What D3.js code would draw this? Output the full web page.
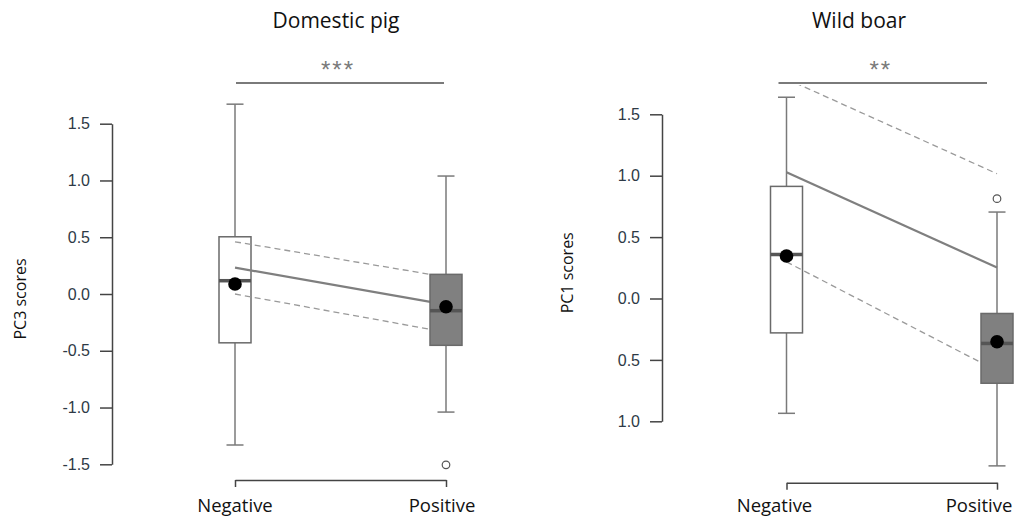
<!DOCTYPE html>
<html>
<head>
<meta charset="utf-8">
<script src="https://cdn.jsdelivr.net/npm/d3@7"></script>
<style>
  body { margin: 0; background: #fff; }
  svg { display: block; }
</style>
</head>
<body>
<div id="chart"></div>
<script>
const groups = ['Negative', 'Positive'];

// box stats: [lower whisker, q1, median, q3, upper whisker]
const pigBoxes = [[-1.33, -0.43, 0.117, 0.504, 1.672], [-1.04, -0.452, -0.147, 0.173, 1.039]];
const pigMeans = [0.088, -0.112];
const pigOutliers = [[], [-1.505]];
const pigFit = [0.232, -0.093];
const pigUpper = [0.46, 0.15];
const pigLower = [0.0, -0.336];
const pigTicks = [1.5, 1.0, 0.5, 0.0, -0.5, -1.0, -1.5];
const pigTickLabels = ['1.5', '1.0', '0.5', '0.0', '-0.5', '-1.0', '-1.5'];

const boarBoxes = [[-0.935, -0.28, 0.358, 0.913, 1.639], [-1.363, -0.69, -0.366, -0.122, 0.704]];
const boarMeans = [0.346, -0.352];
const boarOutliers = [[], [0.813]];
const boarFit = [1.029, 0.252];
const boarUpper = [1.788, 1.016];
const boarLower = [0.298, -0.589];
const boarTicks = [1.5, 1.0, 0.5, 0.0, -0.5, -1.0];
const boarTickLabels = ['1.5', '1.0', '0.5', '0.0', '0.5', '1.0'];

const W = 1016, H = 519;
const svg = d3.select('#chart').append('svg').attr('width', W).attr('height', H);
svg.append('rect').attr('width', W).attr('height', H).attr('fill', '#fff');

const TEXT_FONT = '"Open Sans", sans-serif';
const AXIS_FONT = '"Liberation Sans", Arial, sans-serif';

function drawPanel(p) {
  const x = d3.scalePoint().domain(groups).range(p.xRange);
  const y = d3.scaleLinear().domain(p.yDomain).range(p.yRange);
  const g = svg.append('g');
  const boxW = 32, capW = 17;

  // clip region for fitted lines
  const clipId = 'clip-' + p.id;
  svg.append('clipPath').attr('id', clipId).append('rect')
    .attr('x', 0).attr('y', p.clipTop).attr('width', W).attr('height', H);

  // title
  g.append('text').attr('x', p.titleX).attr('y', 28).attr('text-anchor', 'middle')
    .style('font-family', TEXT_FONT).style('font-size', '21px').attr('fill', '#111')
    .text(p.title);

  // y axis
  const yAxis = d3.axisLeft(y).tickValues(p.ticks).tickSize(12).tickSizeOuter(0).tickPadding(10)
    .tickFormat((d, i) => p.tickLabels[i]);
  const ya = g.append('g').attr('transform', `translate(${p.axisX},0)`).call(yAxis);
  ya.select('.domain').attr('stroke', '#444').attr('stroke-width', 1.5);
  ya.selectAll('.tick line').attr('stroke', '#444').attr('stroke-width', 1.5);
  ya.selectAll('.tick text').style('font-family', AXIS_FONT).style('font-size', '16px').attr('fill', '#2e3a46');

  g.append('text').attr('transform', `translate(${p.yTitleX},${d3.mean(p.yRange) + 5}) rotate(-90)`)
    .attr('text-anchor', 'middle').attr('dy', '0.35em')
    .style('font-family', TEXT_FONT).style('font-size', '16px').attr('fill', '#111')
    .text(p.yTitle);

  // x axis bracket
  const xAxis = d3.axisBottom(x).tickSize(7).tickSizeOuter(0).tickFormat('');
  const xa = g.append('g').attr('transform', `translate(0,${p.xAxisY})`).call(xAxis);
  xa.select('.domain').attr('stroke', '#444').attr('stroke-width', 1.5);
  xa.selectAll('.tick line').attr('stroke', '#444').attr('stroke-width', 1.5);
  groups.forEach((grp, i) => {
    g.append('text').attr('x', x(grp) + p.labelShift[i]).attr('y', 512)
      .attr('text-anchor', 'middle')
      .style('font-family', TEXT_FONT).style('font-size', '18.5px').attr('fill', '#111')
      .text(grp);
  });

  // significance bar
  g.append('line').attr('x1', x(groups[0]) + p.barPad[0]).attr('x2', x(groups[1]) + p.barPad[1])
    .attr('y1', 83).attr('y2', 83).attr('stroke', '#7a7a7a').attr('stroke-width', 2.2);
  g.append('text').attr('x', (x(groups[0]) + p.barPad[0] + x(groups[1]) + p.barPad[1]) / 2 - 2)
    .attr('y', 78).attr('text-anchor', 'middle')
    .style('font-family', AXIS_FONT).style('font-size', '24px').style('letter-spacing', '2px')
    .attr('fill', '#7a7a7a')
    .text(p.sig);

  function drawBox(i) {
    const b = p.boxes[i];
    const cx = x(groups[i]);
    const bg = g.append('g');
    bg.append('line').attr('x1', cx).attr('x2', cx).attr('y1', y(b[0])).attr('y2', y(b[1]))
      .attr('stroke', '#7a7a7a').attr('stroke-width', 1.5);
    bg.append('line').attr('x1', cx).attr('x2', cx).attr('y1', y(b[3])).attr('y2', y(b[4]))
      .attr('stroke', '#7a7a7a').attr('stroke-width', 1.5);
    [b[0], b[4]].forEach(v => {
      bg.append('line').attr('x1', cx - capW / 2).attr('x2', cx + capW / 2).attr('y1', y(v)).attr('y2', y(v))
        .attr('stroke', '#7a7a7a').attr('stroke-width', 1.5);
    });
    bg.append('rect').attr('x', cx - boxW / 2).attr('width', boxW)
      .attr('y', y(b[3])).attr('height', y(b[1]) - y(b[3]))
      .attr('fill', i === 0 ? '#fff' : '#808080').attr('stroke', '#6a6a6a').attr('stroke-width', 1.5);
    bg.append('line').attr('x1', cx - boxW / 2).attr('x2', cx + boxW / 2).attr('y1', y(b[2])).attr('y2', y(b[2]))
      .attr('stroke', '#555').attr('stroke-width', 3.5);
    p.outliers[i].forEach(v => {
      bg.append('circle').attr('cx', cx).attr('cy', y(v)).attr('r', 3.8)
        .attr('fill', '#fff').attr('stroke', '#555').attr('stroke-width', 1.2);
    });
  }

  drawBox(0);

  // fitted line with confidence limits
  const line = d3.line().x((d, i) => x(groups[i])).y(d => y(d));
  const lg = g.append('g').attr('clip-path', `url(#${clipId})`);
  [p.upper, p.lower].forEach(vals => {
    lg.append('path').attr('d', line(vals)).attr('fill', 'none')
      .attr('stroke', '#9a9a9a').attr('stroke-width', 1.3).attr('stroke-dasharray', '6,4');
  });
  lg.append('path').attr('d', line(p.fit)).attr('fill', 'none')
    .attr('stroke', '#7f7f7f').attr('stroke-width', 2.2);

  drawBox(1);

  // means
  p.means.forEach((m, i) => {
    g.append('circle').attr('cx', x(groups[i])).attr('cy', y(m)).attr('r', 6.8).attr('fill', '#000');
  });
}

drawPanel({
  id: 'pig', title: 'Domestic pig', titleX: 336, yTitle: 'PC3 scores', yTitleX: 20,
  xRange: [235, 446], yDomain: [-1.5, 1.5], yRange: [464.3, 123.7], axisX: 112,
  ticks: pigTicks, tickLabels: pigTickLabels, xAxisY: 480, labelShift: [0, -4],
  barPad: [1, -2], sig: '***', clipTop: 0,
  boxes: pigBoxes, means: pigMeans, outliers: pigOutliers,
  fit: pigFit, upper: pigUpper, lower: pigLower
});

drawPanel({
  id: 'boar', title: 'Wild boar', titleX: 859, yTitle: 'PC1 scores', yTitleX: 567,
  xRange: [786.5, 997], yDomain: [-1.0, 1.5], yRange: [421.3, 114.3], axisX: 662,
  ticks: boarTicks, tickLabels: boarTickLabels, xAxisY: 482.7, labelShift: [-12, -18],
  barPad: [-8, -10], sig: '**', clipTop: 85,
  boxes: boarBoxes, means: boarMeans, outliers: boarOutliers,
  fit: boarFit, upper: boarUpper, lower: boarLower
});
</script>
</body>
</html>
